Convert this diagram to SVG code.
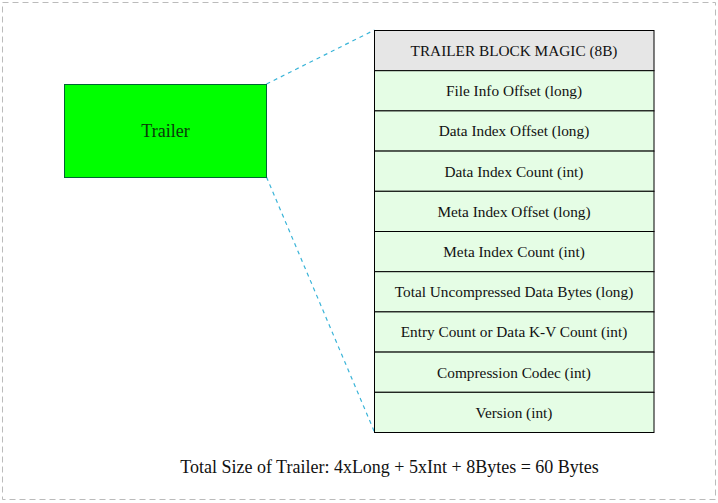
<svg xmlns="http://www.w3.org/2000/svg" width="718" height="503" viewBox="0 0 718 503">
<style>
text{font-family:"Liberation Serif","Times New Roman",serif;fill:#111;text-anchor:middle}
.row{fill:#e5fde5;stroke:#000;stroke-width:1}
.rt{font-size:15.3px}
.conn{stroke:#3ab4d8;stroke-width:1.2;stroke-dasharray:4,4;fill:none}
</style>
<rect x="2.5" y="2.5" width="713" height="497" fill="#fff" stroke="#bbb" stroke-dasharray="6,4"/>
<g id="connectors">
<line class="conn" x1="266.5" y1="84" x2="374.5" y2="30"/>
<line class="conn" x1="266.5" y1="177" x2="374.5" y2="432"/>
</g>
<g id="trailer">
<rect x="64.5" y="84.5" width="202" height="93" fill="#00ff00" stroke="#063" stroke-width="1"/>
<text x="165.5" y="137" style="font-size:18px;fill:#0a3a0a">Trailer</text>
</g>
<g id="magic"><rect x="374.5" y="30.5" width="279.5" height="40.2" fill="#e6e6e6" stroke="#000"/><text class="rt" x="514" y="56">TRAILER BLOCK MAGIC (8B)</text></g>
<g id="row1"><rect class="row" x="374.5" y="70.7" width="279.5" height="40.2"/><text class="rt" x="514" y="96.2">File Info Offset (long)</text></g>
<g id="row2"><rect class="row" x="374.5" y="110.9" width="279.5" height="40.2"/><text class="rt" x="514" y="136.4">Data Index Offset (long)</text></g>
<g id="row3"><rect class="row" x="374.5" y="151.1" width="279.5" height="40.2"/><text class="rt" x="514" y="176.6">Data Index Count (int)</text></g>
<g id="row4"><rect class="row" x="374.5" y="191.3" width="279.5" height="40.2"/><text class="rt" x="514" y="216.8">Meta Index Offset (long)</text></g>
<g id="row5"><rect class="row" x="374.5" y="231.5" width="279.5" height="40.2"/><text class="rt" x="514" y="257">Meta Index Count (int)</text></g>
<g id="row6"><rect class="row" x="374.5" y="271.7" width="279.5" height="40.2"/><text class="rt" x="514" y="297.2">Total Uncompressed Data Bytes (long)</text></g>
<g id="row7"><rect class="row" x="374.5" y="311.9" width="279.5" height="40.2"/><text class="rt" x="514" y="337.4">Entry Count or Data K-V Count (int)</text></g>
<g id="row8"><rect class="row" x="374.5" y="352.1" width="279.5" height="40.2"/><text class="rt" x="514" y="377.6">Compression Codec (int)</text></g>
<g id="row9"><rect class="row" x="374.5" y="392.3" width="279.5" height="40.2"/><text class="rt" x="514" y="417.8">Version (int)</text></g>
<text x="389.5" y="472.5" style="font-size:18px">Total Size of Trailer: 4xLong + 5xInt + 8Bytes = 60 Bytes</text>
</svg>
